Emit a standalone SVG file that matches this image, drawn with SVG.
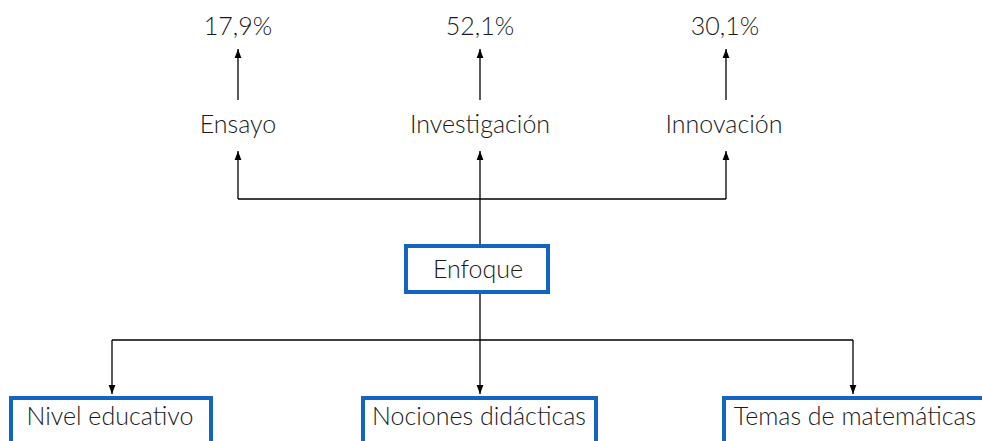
<svg xmlns="http://www.w3.org/2000/svg" width="982" height="441" viewBox="0 0 982 441">
<style>
text{font-family:Lato,"Open Sans","Liberation Sans",sans-serif;font-weight:300;font-size:25px;fill:#1a1a1a;text-anchor:middle}
.box{fill:#fff;stroke:#1565c0;stroke-width:4}
.ln{fill:none;stroke:#000;stroke-width:1.3}
</style>
<defs>
<marker id="ah" markerWidth="9" markerHeight="14" refX="12" refY="7" orient="auto" markerUnits="userSpaceOnUse" viewBox="0 0 12 14">
<path d="M0,2.5 L12,7 L0,11.5 Z" fill="#000"/>
</marker>
</defs>
<rect width="982" height="441" fill="#fff"/>
<g id="connectors">
<path class="ln" d="M480,245 V199"/>
<path class="ln" d="M238,199 H726"/>
<path class="ln" d="M238,199 V151" marker-end="url(#ah)"/>
<path class="ln" d="M480,199 V151" marker-end="url(#ah)"/>
<path class="ln" d="M726,199 V151" marker-end="url(#ah)"/>
<path class="ln" d="M238,100 V49" marker-end="url(#ah)"/>
<path class="ln" d="M480,100 V49" marker-end="url(#ah)"/>
<path class="ln" d="M726,100 V49" marker-end="url(#ah)"/>
<path class="ln" d="M480,293 V340"/>
<path class="ln" d="M112,340 H853"/>
<path class="ln" d="M112,340 V394" marker-end="url(#ah)"/>
<path class="ln" d="M480,340 V394" marker-end="url(#ah)"/>
<path class="ln" d="M853,340 V394" marker-end="url(#ah)"/>
</g>
<g id="pct-ensayo"><text x="238" y="35">17,9%</text></g>
<g id="pct-investigacion"><text x="480" y="35">52,1%</text></g>
<g id="pct-innovacion"><text x="725" y="35">30,1%</text></g>
<g id="ensayo"><text x="238" y="133">Ensayo</text></g>
<g id="investigacion"><text x="480" y="133">Investigación</text></g>
<g id="innovacion"><text x="724" y="133">Innovación</text></g>
<g id="enfoque"><rect class="box" x="406" y="246" width="142" height="46"/><text x="478" y="278">Enfoque</text></g>
<g id="nivel"><rect class="box" x="11" y="398" width="200" height="60"/><text x="110" y="425">Nivel educativo</text></g>
<g id="nociones"><rect class="box" x="363" y="398" width="233" height="60"/><text x="479" y="425">Nociones didácticas</text></g>
<g id="temas"><rect class="box" x="724" y="398" width="280" height="60"/><text x="855" y="425">Temas de matemáticas</text></g>
</svg>
